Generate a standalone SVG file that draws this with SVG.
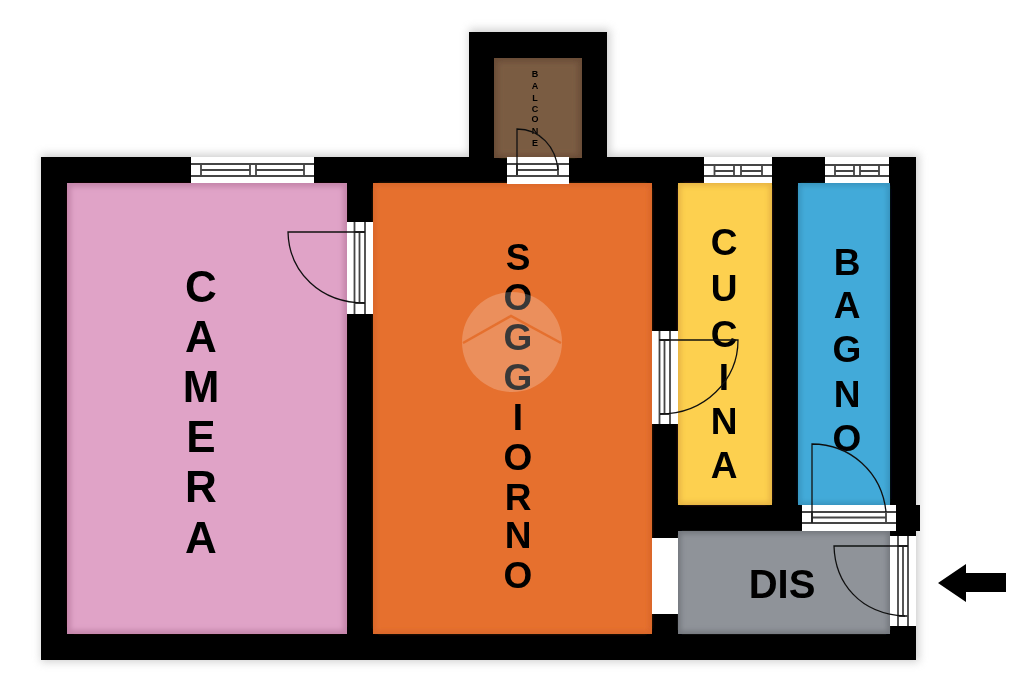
<svg xmlns="http://www.w3.org/2000/svg" width="1024" height="682" viewBox="0 0 1024 682">
<style>
.lbl{font-family:"Liberation Sans",Arial,sans-serif;font-weight:700;text-anchor:middle;fill:#000}
.l1{font-size:44px}.l2{font-size:37px}.l3{font-size:40px}.l4{font-size:9px}
.w{fill:#fff}
.g{fill:none;stroke:#444;stroke-width:1.8}
.d{fill:none;stroke:#111;stroke-width:1.3}
</style>
<defs>
<filter id="b1" x="-10%" y="-10%" width="120%" height="120%"><feGaussianBlur stdDeviation="4"/></filter>
<filter id="b2" x="-5%" y="-5%" width="110%" height="110%"><feGaussianBlur stdDeviation="2.500"/></filter>
<filter id="soft" x="0" y="0" width="100%" height="100%"><feGaussianBlur stdDeviation="0.500"/></filter>
</defs>
<rect width="1024" height="682" fill="#fff"/>
<g id="shadow" filter="url(#b1)" fill="#aaa" opacity="0.55">
<rect x="41" y="154" width="878" height="508"/><rect x="469" y="29" width="141" height="130"/>
</g>
<g id="plan" filter="url(#soft)">
<g id="walls" fill="#000">
<rect x="41" y="157" width="875" height="503"/>
<rect x="469" y="32" width="138" height="126"/>
<rect x="900" y="505" width="20" height="26"/>
</g>
<g id="balcone">
<rect x="494" y="58" width="88" height="100" fill="#6a4d37"/>
<rect x="498" y="62" width="80" height="93" fill="#7a5b42" filter="url(#b2)"/>
<g class="lbl l4">
<text x="535" y="77">B</text><text x="535" y="89">A</text><text x="535" y="101">L</text><text x="535" y="112">C</text><text x="535" y="122">O</text><text x="535" y="134">N</text><text x="535" y="146">E</text>
</g>
</g>
<g id="camera">
<rect x="67" y="183" width="280" height="451" fill="#c586ab"/>
<rect x="71" y="187" width="272" height="443" fill="#e0a3c7" filter="url(#b2)"/>
<g class="lbl l1">
<text x="201" y="302">C</text><text x="201" y="352">A</text><text x="201" y="402">M</text><text x="201" y="452">E</text><text x="201" y="502">R</text><text x="201" y="553">A</text>
</g>
</g>
<g id="soggiorno">
<rect x="373" y="183" width="279" height="451" fill="#d9662a"/>
<rect x="376" y="186" width="273" height="445" fill="#e6702e" filter="url(#b2)"/>
<g class="lbl l2">
<text x="518" y="270">S</text><text x="518" y="310">O</text><text x="518" y="350">G</text><text x="518" y="390">G</text><text x="518" y="430">I</text><text x="518" y="470">O</text><text x="518" y="510">R</text><text x="518" y="548">N</text><text x="518" y="588">O</text>
</g>
</g>
<g id="cucina">
<rect x="678" y="183" width="94" height="322" fill="#e8b544"/>
<rect x="681" y="186" width="88" height="316" fill="#fdd04f" filter="url(#b2)"/>
<g class="lbl l2">
<text x="724" y="255">C</text><text x="724" y="301">U</text><text x="724" y="347">C</text><text x="724" y="390">I</text><text x="724" y="434">N</text><text x="724" y="478">A</text>
</g>
</g>
<g id="bagno">
<rect x="798" y="183" width="92" height="322" fill="#3894bf"/>
<rect x="801" y="186" width="86" height="316" fill="#42aad9" filter="url(#b2)"/>
<g class="lbl l2">
<text x="847" y="275">B</text><text x="847" y="318">A</text><text x="847" y="362">G</text><text x="847" y="407">N</text><text x="847" y="451">O</text>
</g>
</g>
<g id="dis">
<rect x="678" y="531" width="212" height="103" fill="#74787e"/>
<rect x="681" y="534" width="206" height="97" fill="#8f9399" filter="url(#b2)"/>
<text class="lbl l3" x="782" y="598">DIS</text>
</g>
<g id="opening"><rect class="w" x="652" y="538" width="26" height="76"/></g>
<g id="window-camera">
<rect class="w" x="191" y="157" width="123" height="26"/>
<path class="g" d="M191 164H314M191 176H314M201 164V176M250 164V176M256 164V176M304 164V176M201 170H250M256 170H304"/>
</g>
<g id="window-cucina">
<rect class="w" x="704" y="157" width="68" height="26"/>
<path class="g" d="M704 165H772M704 176H772M714.500 165V176M734 165V176M741 165V176M762 165V176M714.500 171H734M741 171H762"/>
</g>
<g id="window-bagno">
<rect class="w" x="825" y="157" width="64" height="26"/>
<path class="g" d="M825 165H889M825 176H889M835 165V176M854 165V176M860 165V176M879 165V176M835 171H854M860 171H879"/>
</g>
<g id="door-balcone">
<rect class="w" x="507" y="157" width="62" height="27"/>
<path class="g" d="M507 164H569M507 176H569M517 164V176M558 164V176M517 170H558"/>
<path class="d" d="M517 175V129C540 129 556 147 558 170"/>
</g>
<g id="door-camera">
<rect class="w" x="347" y="222" width="26" height="92"/>
<path class="g" d="M354.500 222V314M365 222V314M359.500 232V303M354.500 232H365M354.500 303H365"/>
<path class="d" d="M365 232H288C289 272 320 303 365 303"/>
</g>
<g id="door-cucina">
<rect class="w" x="652" y="331" width="26" height="93"/>
<path class="g" d="M659.500 331V424M670 331V424M664.500 340V414M659.500 340H670M659.500 414H670"/>
<path class="d" d="M659 340H738C738 380 705 414 660 414"/>
</g>
<g id="door-bagno">
<rect class="w" x="802" y="505" width="94" height="26"/>
<path class="g" d="M802 512H896M802 523H896M812 512V523M886 512V523M812 517.500H886"/>
<path class="d" d="M812 523V444C850 444 882 472 886 512"/>
</g>
<g id="door-dis">
<rect class="w" x="890" y="536" width="26" height="90"/>
<path class="g" d="M898 536V626M908 536V626M903 546V616M898 546H908M898 616H908"/>
<path class="d" d="M908 546H834C835 583 860 614 905 616"/>
</g>
<g id="arrow"><path d="M938 583L966 564V573H1006V592H966V602Z" fill="#000"/></g>
<g id="watermark">
<circle cx="512" cy="342" r="50" fill="#fff" opacity="0.22"/>
<path d="M463 343L511 316L561 343" fill="none" stroke="#e56f2e" stroke-width="2.500"/>
</g>
</g>
</svg>
